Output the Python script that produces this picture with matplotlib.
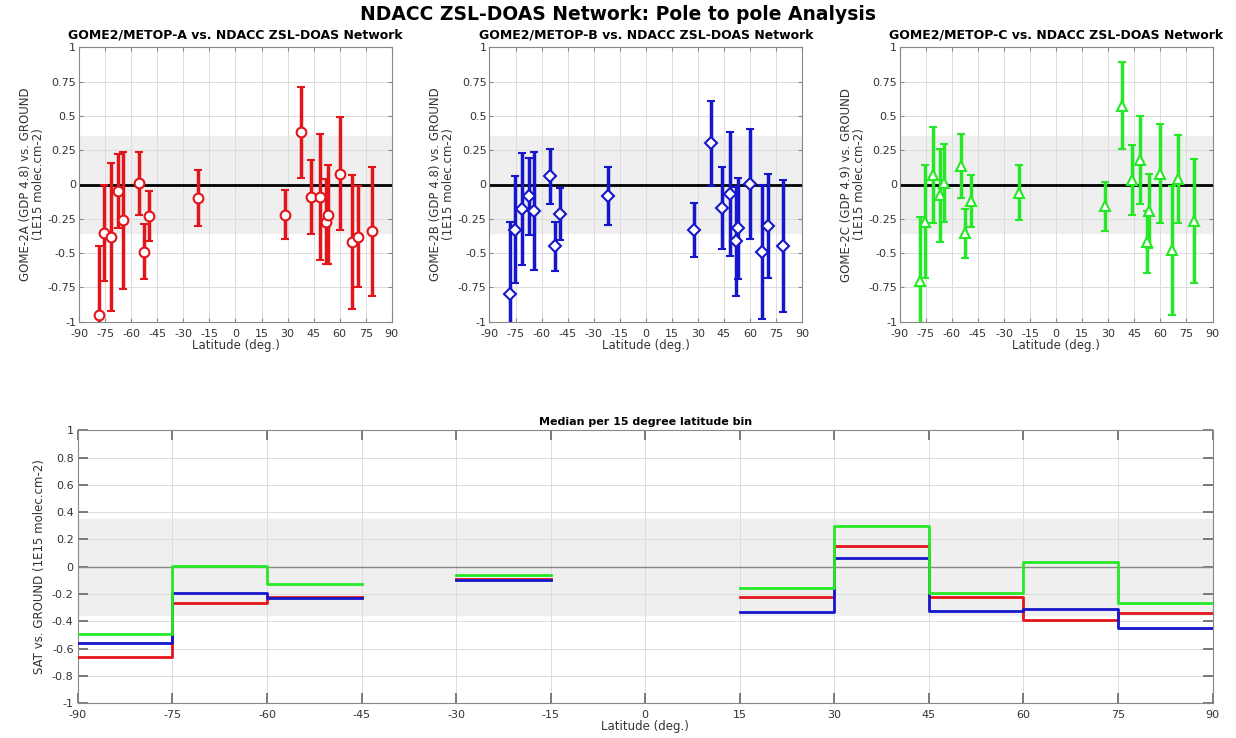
import numpy as np
import matplotlib.pyplot as plt

plt.rcParams['axes.unicode_minus'] = False

# ---- data ----
lat_a = [-78.6, -75.9, -71.5, -67.4, -64.9, -55.5, -52.4, -49.9, -21.3, 28.3,
         37.9, 43.7, 48.5, 52.4, 53.4, 60.1, 66.9, 70.7, 78.8]
val_a = [-0.95, -0.35, -0.38, -0.05, -0.26, 0.01, -0.49, -0.23, -0.10, -0.22,
         0.38, -0.09, -0.09, -0.27, -0.22, 0.08, -0.42, -0.38, -0.34]
err_a = [0.50, 0.35, 0.54, 0.27, 0.50, 0.23, 0.20, 0.185, 0.205, 0.18,
         0.33, 0.27, 0.46, 0.31, 0.36, 0.41, 0.49, 0.37, 0.47]

lat_b = [-78.4, -75.3, -71.1, -67.3, -64.4, -55.3, -52.3, -49.6, -21.5, 27.8,
         37.6, 43.8, 48.2, 52.1, 53.2, 59.7, 66.9, 70.3, 79.0]
val_b = [-0.80, -0.33, -0.18, -0.085, -0.195, 0.06, -0.45, -0.215, -0.085, -0.33,
         0.30, -0.17, -0.07, -0.415, -0.32, 0.005, -0.49, -0.30, -0.45]
err_b = [0.53, 0.39, 0.41, 0.28, 0.43, 0.20, 0.18, 0.19, 0.21, 0.195,
         0.31, 0.30, 0.45, 0.40, 0.37, 0.40, 0.49, 0.38, 0.48]

lat_c = [-78.1, -75.6, -71.0, -67.1, -64.3, -55.0, -52.2, -49.3, -21.4, 27.9,
         37.7, 43.9, 48.3, 52.3, 53.5, 59.6, 66.9, 70.2, 79.1]
val_c = [-0.70, -0.27, 0.07, -0.08, 0.01, 0.135, -0.355, -0.12, -0.06, -0.16,
         0.575, 0.03, 0.18, -0.42, -0.19, 0.08, -0.48, 0.04, -0.265]
err_c = [0.46, 0.41, 0.35, 0.34, 0.285, 0.235, 0.18, 0.19, 0.20, 0.18,
         0.32, 0.255, 0.32, 0.225, 0.27, 0.36, 0.47, 0.32, 0.45]

# 15 degree bins, -90..90 (NaN = empty bin)
bin_edges = np.arange(-90, 91, 15)
med_a = [-0.66, -0.265, -0.22, np.nan, -0.09, np.nan, np.nan, -0.224, 0.15, -0.224, -0.39, -0.34]
med_b = [-0.56, -0.19, -0.232, np.nan, -0.095, np.nan, np.nan, -0.329, 0.066, -0.322, -0.307, -0.45]
med_c = [-0.49, 0.005, -0.124, np.nan, -0.063, np.nan, np.nan, -0.159, 0.30, -0.195, 0.032, -0.268]

red = '#e3151b'
blue = '#1616cc'
green = '#26e826'

panels = [
    ('GOME2/METOP-A vs. NDACC ZSL-DOAS Network', 'GOME-2A (GDP 4.8) vs. GROUND\n(1E15 molec.cm-2)',
     lat_a, val_a, err_a, red, 'o'),
    ('GOME2/METOP-B vs. NDACC ZSL-DOAS Network', 'GOME-2B (GDP 4.8) vs. GROUND\n(1E15 molec.cm-2)',
     lat_b, val_b, err_b, blue, 'D'),
    ('GOME2/METOP-C vs. NDACC ZSL-DOAS Network', 'GOME-2C (GDP 4.9) vs. GROUND\n(1E15 molec.cm-2)',
     lat_c, val_c, err_c, green, '^'),
]

fig = plt.figure(figsize=(12.36, 7.38), dpi=100)
fig.suptitle('NDACC ZSL-DOAS Network: Pole to pole Analysis', fontsize=13.5, fontweight='bold', y=0.993)

lefts = [0.064, 0.396, 0.728]
ytk = np.arange(-1, 1.01, 0.25)
ytl = ['-1', '-0.75', '-0.5', '-0.25', '0', '0.25', '0.5', '0.75', '1']
for left, (title, ylab, lat, val, err, col, mk) in zip(lefts, panels):
    ax = fig.add_axes([left, 0.564, 0.253, 0.372])
    ax.axhspan(-0.35, 0.35, color='#efefef', zorder=0)
    ax.axhline(0, color='black', lw=2, zorder=1)
    ms = 7 if mk != 'D' else 6
    ax.errorbar(lat, val, yerr=err, fmt=mk, color=col, ecolor=col, elinewidth=2.5,
                capsize=3, capthick=2, ms=ms, mfc='white', mec=col, mew=1.5, zorder=3)
    ax.set_xlim(-90, 90)
    ax.set_ylim(-1, 1)
    ax.set_xticks(np.arange(-90, 91, 15))
    ax.set_yticks(ytk)
    ax.set_yticklabels(ytl)
    ax.grid(True, color='#dcdcdc', lw=0.7)
    ax.set_axisbelow(True)
    ax.tick_params(direction='in', top=True, right=True, labelsize=8, length=3,
                   color='#888888', labelcolor='#333333', pad=2)
    ax.tick_params(axis='x', pad=5)
    for s in ax.spines.values():
        s.set_color('#888888')
    ax.set_title(title, fontsize=9, fontweight='bold', pad=6)
    ax.set_xlabel('Latitude (deg.)', fontsize=8.5, color='#333333', labelpad=0)
    ax.set_ylabel(ylab, fontsize=8.5, color='#333333', labelpad=2, linespacing=1.0)

# bottom: medians per latitude bin
ax = fig.add_axes([0.063, 0.047, 0.918, 0.37])
ax.axhspan(-0.35, 0.35, color='#efefef', zorder=0)
ax.axhline(0, color='#888888', lw=1, zorder=1)
for med, col in [(med_a, red), (med_b, blue), (med_c, green)]:
    y = list(med) + [med[-1]]
    ax.plot(bin_edges, y, drawstyle='steps-post', color=col, lw=2, zorder=3)
ax.set_xlim(-90, 90)
ax.set_ylim(-1, 1)
ax.set_xticks(np.arange(-90, 91, 15))
ax.set_yticks(np.arange(-1, 1.01, 0.2))
ax.set_yticklabels(['-1', '-0.8', '-0.6', '-0.4', '-0.2', '0', '0.2', '0.4', '0.6', '0.8', '1'])
ax.grid(True, color='#dcdcdc', lw=0.7)
ax.set_axisbelow(True)
ax.tick_params(direction='in', top=True, right=True, labelsize=8, length=7, width=1.2,
               color='#666666', labelcolor='#333333', pad=3)
ax.tick_params(axis='x', pad=5)
for s in ax.spines.values():
    s.set_color('#888888')
ax.set_title('Median per 15 degree latitude bin', fontsize=8, fontweight='bold', pad=4)
ax.set_xlabel('Latitude (deg.)', fontsize=8.5, color='#333333', labelpad=0)
ax.set_ylabel('SAT vs. GROUND (1E15 molec.cm-2)', fontsize=8.5, color='#333333', labelpad=4)

fig.savefig('out.png', dpi=100)
